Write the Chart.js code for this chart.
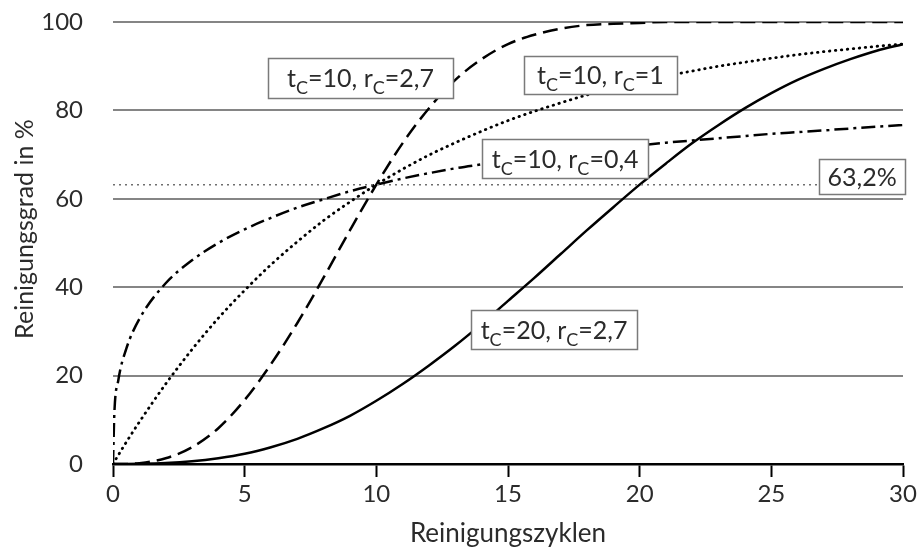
<!DOCTYPE html>
<html lang="de">
<head>
<meta charset="utf-8">
<title>Reinigungsgrad</title>
<script src="https://cdn.jsdelivr.net/npm/chart.js@4.4.1/dist/chart.umd.min.js"></script>
<style>
  html, body { margin: 0; padding: 0; background: #fff; }
  #wrap { width: 919px; height: 549px; }
</style>
</head>
<body>
<div id="wrap"><canvas id="chart"></canvas></div>
<script>
// Reinigungszyklen (x)
const cycles = [0, 0.05, 0.2, 0.5, 1, 2, 3, 4, 5, 6, 7, 8, 9, 10,
    11, 12, 13, 14, 15, 16, 17, 18, 19, 20, 21, 22, 23, 24, 25, 26, 27, 28, 29, 30];

// Reinigungsgrad in % je Kurve
const tc10rc27 = [0, 0, 0, 0, 0.2, 1.3, 3.8, 8.1, 14.5, 22.6, 31.9, 42.2, 52.9, 63.2,
    72.6, 80.5, 86.9, 91.6, 95.0, 97.1, 98.5, 99.3, 99.6, 99.8, 100, 100, 100, 100, 100, 100, 100, 100, 100, 100];
const tc10rc1 = [0, 0.5, 2.0, 4.9, 9.5, 18.1, 25.9, 33.0, 39.3, 45.1, 50.3, 55.1, 59.3, 63.2,
    66.7, 69.9, 72.7, 75.3, 77.7, 79.8, 81.7, 83.5, 85.0, 86.5, 87.8, 88.9, 90.0, 90.9, 91.8, 92.6, 93.3, 93.9, 94.5, 95.0];
const tc10rc04 = [0, 11.3, 18.9, 26.0, 32.8, 40.9, 46.1, 50.0, 53.1, 55.7, 58.0, 59.9, 61.7, 63.2,
    64.6, 65.8, 66.9, 67.8, 68.7, 69.5, 70.2, 70.9, 71.5, 72.1, 72.7, 73.2, 73.7, 74.2, 74.7, 75.1, 75.5, 75.9, 76.3, 76.7];
const tc20rc27 = [0, 0, 0, 0, 0.03, 0.2, 0.6, 1.3, 2.3, 3.8, 5.7, 8.1, 10.9, 14.3,
    18.1, 22.3, 26.8, 31.7, 36.9, 42.1, 47.5, 52.9, 58.1, 63.2, 68.0, 72.6, 76.7, 80.5, 83.9, 86.9, 89.4, 91.6, 93.5, 95.0];

// 63,2%-Linie
const refX = [0, 30];
const refY = [63.2, 63.2];

// Beschriftungen (Mitte in Datenkoordinaten)
const boxLabels = [
    { text: 't_C=10, r_C=2,7', x: 9.40, y: 87.4, w: 185, h: 40 },
    { text: 't_C=10, r_C=1', x: 18.51, y: 88.0, w: 153, h: 38 },
    { text: 't_C=10, r_C=0,4', x: 17.17, y: 69.1, w: 166, h: 39 },
    { text: '63,2%', x: 28.45, y: 65.0, w: 86, h: 35 },
    { text: 't_C=20, r_C=2,7', x: 16.75, y: 30.4, w: 166, h: 39 }
];

const yTitle = 'Reinigungsgrad in %';
const xTitle = 'Reinigungszyklen';

const FONT = 'Lato';
const TEXT = '#2b2b2b';

function toPoints(xs, ys) {
    return xs.map((x, i) => ({ x: x, y: ys[i] }));
}

function curve(data, dash, extra) {
    return Object.assign({
        data: data,
        borderColor: '#000',
        borderWidth: 2.5,
        borderDash: dash,
        pointRadius: 0,
        fill: false,
        cubicInterpolationMode: 'monotone'
    }, extra || {});
}

// Kästchen mit Text und tiefgestelltem C, dazu der y-Achsentitel
const boxPlugin = {
    id: 'boxLabels',
    afterDraw(chart) {
        const ctx = chart.ctx;
        ctx.save();
        ctx.translate(33, 229);
        ctx.rotate(-Math.PI / 2);
        ctx.font = '25px ' + FONT;
        ctx.fillStyle = TEXT;
        ctx.textAlign = 'center';
        ctx.textBaseline = 'alphabetic';
        ctx.fillText(yTitle, 0, 0);
        ctx.restore();
    },
    afterDatasetsDraw(chart) {
        const { ctx, scales: { x, y } } = chart;
        const mainFont = '25px ' + FONT;
        const subFont = '18px ' + FONT;
        ctx.save();
        boxLabels.forEach(b => {
            const cx = x.getPixelForValue(b.x);
            const cy = y.getPixelForValue(b.y);
            const left = Math.round(cx - b.w / 2) + 0.5;
            const top = Math.round(cy - b.h / 2) + 0.5;
            ctx.fillStyle = '#fff';
            ctx.fillRect(left, top, b.w, b.h);
            ctx.strokeStyle = '#7a7a7a';
            ctx.lineWidth = 1.5;
            ctx.strokeRect(left, top, b.w, b.h);

            const pieces = b.text.split('_C');
            const parts = [];
            pieces.forEach((p, i) => {
                if (i > 0) parts.push({ t: 'C', sub: true });
                if (p) parts.push({ t: p, sub: false });
            });
            let total = 0;
            parts.forEach(p => {
                ctx.font = p.sub ? subFont : mainFont;
                p.w = ctx.measureText(p.t).width;
                total += p.w;
            });
            let px = cx - total / 2;
            const base = cy + 9;
            ctx.fillStyle = TEXT;
            ctx.textBaseline = 'alphabetic';
            ctx.textAlign = 'left';
            parts.forEach(p => {
                ctx.font = p.sub ? subFont : mainFont;
                ctx.fillText(p.t, px, p.sub ? base + 7 : base);
                px += p.w;
            });
        });
        ctx.restore();
    }
};

function initChart() {
    const ctx = document.getElementById('chart').getContext('2d');
    new Chart(ctx, {
        type: 'line',
        data: {
            datasets: [
                {
                    data: toPoints(refX, refY),
                    borderColor: '#6f6f6f',
                    borderWidth: 1.5,
                    borderDash: [2, 4],
                    pointRadius: 0,
                    fill: false
                },
                curve(toPoints(cycles, tc20rc27), []),
                curve(toPoints(cycles, tc10rc27), [15, 7]),
                curve(toPoints(cycles, tc10rc1), [0.5, 5.5], { borderWidth: 2.8, borderCapStyle: 'round' }),
                curve(toPoints(cycles, tc10rc04), [14, 5, 3, 5])
            ]
        },
        options: {
            responsive: true,
            maintainAspectRatio: false,
            animation: false,
            layout: { padding: { top: 22, right: 16, bottom: 0, left: 0 } },
            plugins: {
                legend: { display: false },
                tooltip: { enabled: false }
            },
            scales: {
                x: {
                    type: 'linear',
                    min: 0,
                    max: 30,
                    afterFit(scale) {
                        scale.height = 85;
                        scale.paddingLeft = 0;
                        scale.paddingRight = 0;
                    },
                    ticks: {
                        stepSize: 5,
                        color: TEXT,
                        padding: 3,
                        maxRotation: 0,
                        font: { family: FONT, size: 24 }
                    },
                    grid: {
                        drawOnChartArea: false,
                        drawTicks: true,
                        tickLength: 13,
                        tickWidth: 2,
                        tickColor: '#000'
                    },
                    border: { display: true, color: '#000', width: 2.5 },
                    title: {
                        display: true,
                        text: xTitle,
                        color: TEXT,
                        padding: { top: 0, bottom: 0 },
                        font: { family: FONT, size: 26 }
                    }
                },
                y: {
                    min: 0,
                    max: 100,
                    afterFit(scale) {
                        scale.width = 113;
                        scale.paddingTop = 0;
                        scale.paddingBottom = 0;
                    },
                    ticks: {
                        stepSize: 20,
                        color: TEXT,
                        padding: 30,
                        font: { family: FONT, size: 24 }
                    },
                    grid: {
                        drawTicks: false,
                        lineWidth: 2,
                        color: c => (c.tick && c.tick.value === 0) ? 'rgba(0,0,0,0)' : '#858585'
                    },
                    border: { display: false },
                    title: { display: false }
                }
            }
        },
        plugins: [boxPlugin]
    });
}

window.addEventListener('DOMContentLoaded', initChart);
</script>
</body>
</html>
